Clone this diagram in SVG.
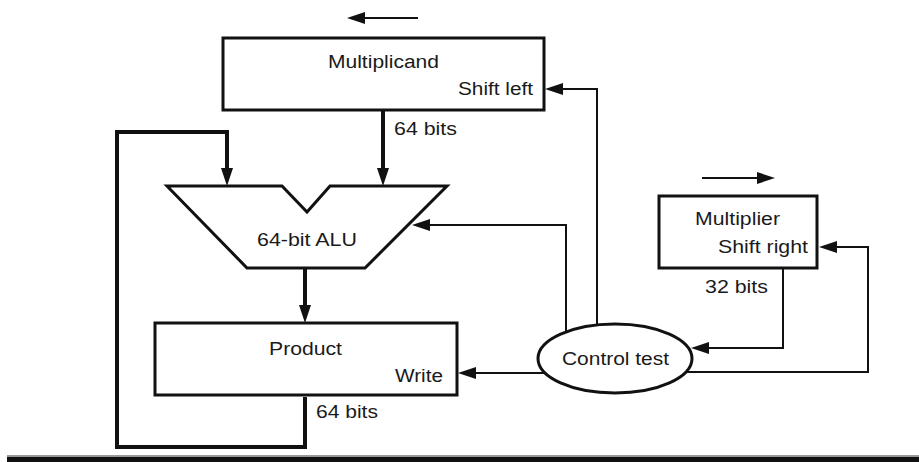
<svg xmlns="http://www.w3.org/2000/svg" width="919" height="462" viewBox="0 0 919 462">
<style>
.box{fill:#fff;stroke:#111;stroke-width:3}
.bus{fill:none;stroke:#111;stroke-width:4}
.ctl{fill:none;stroke:#111;stroke-width:2}
.t{font-family:"Liberation Sans",Arial,sans-serif;font-size:18px;fill:#1a1a1a}
</style>
<defs>
<marker id="ah" markerUnits="userSpaceOnUse" markerWidth="18" markerHeight="12" refX="8" refY="6" orient="auto" viewBox="0 0 18 12">
<path d="M0,0 L18,6 L0,12 z" fill="#111"/>
</marker>
</defs>
<rect width="919" height="462" fill="#fff"/>
<g id="connectors">
<path class="ctl" d="M418,18 H357" marker-end="url(#ah)"/>
<path class="ctl" d="M702,178 H765" marker-end="url(#ah)"/>
<path class="bus" d="M383,110 V176" marker-end="url(#ah)"/>
<path class="bus" d="M305,397 V447 H117 V132 H227 V176" marker-end="url(#ah)"/>
<path class="bus" d="M305,268 V313" marker-end="url(#ah)"/>
<path class="ctl" d="M566,333 V225 H422" marker-end="url(#ah)"/>
<path class="ctl" d="M597,325 V89 H555" marker-end="url(#ah)"/>
<path class="ctl" d="M546,373 H468" marker-end="url(#ah)"/>
<path class="ctl" d="M783,268 V348 H701" marker-end="url(#ah)"/>
<path class="ctl" d="M685,372 H868 V247 H829" marker-end="url(#ah)"/>
</g>
<g id="multiplicand">
<rect class="box" x="223" y="38" width="321" height="72"/>
<text class="t" x="328" y="68" textLength="111" lengthAdjust="spacingAndGlyphs">Multiplicand</text>
<text class="t" x="458" y="95" textLength="75" lengthAdjust="spacingAndGlyphs">Shift left</text>
</g>
<text class="t" x="394" y="135" textLength="63" lengthAdjust="spacingAndGlyphs">64 bits</text>
<g id="alu">
<polygon class="box" points="167,186 282,186 307,212 330,186 447,186 365,268 247,268"/>
<text class="t" x="257" y="246" textLength="100" lengthAdjust="spacingAndGlyphs">64-bit ALU</text>
</g>
<g id="product">
<rect class="box" x="155" y="323" width="302" height="72"/>
<text class="t" x="269" y="355" textLength="73" lengthAdjust="spacingAndGlyphs">Product</text>
<text class="t" x="395" y="382" textLength="48" lengthAdjust="spacingAndGlyphs">Write</text>
</g>
<text class="t" x="316" y="418" textLength="62" lengthAdjust="spacingAndGlyphs">64 bits</text>
<g id="multiplier">
<rect class="box" x="659" y="196" width="158" height="72"/>
<text class="t" x="695" y="225" textLength="85" lengthAdjust="spacingAndGlyphs">Multiplier</text>
<text class="t" x="718" y="253" textLength="90" lengthAdjust="spacingAndGlyphs">Shift right</text>
</g>
<text class="t" x="705" y="293" textLength="63" lengthAdjust="spacingAndGlyphs">32 bits</text>
<g id="control">
<ellipse class="box" cx="615" cy="358.5" rx="77" ry="34.5"/>
<text class="t" x="562" y="365" textLength="107" lengthAdjust="spacingAndGlyphs">Control test</text>
</g>
<rect x="7" y="457" width="912" height="5" fill="#111"/>
<rect x="7" y="455" width="912" height="2" fill="#999"/>
</svg>
